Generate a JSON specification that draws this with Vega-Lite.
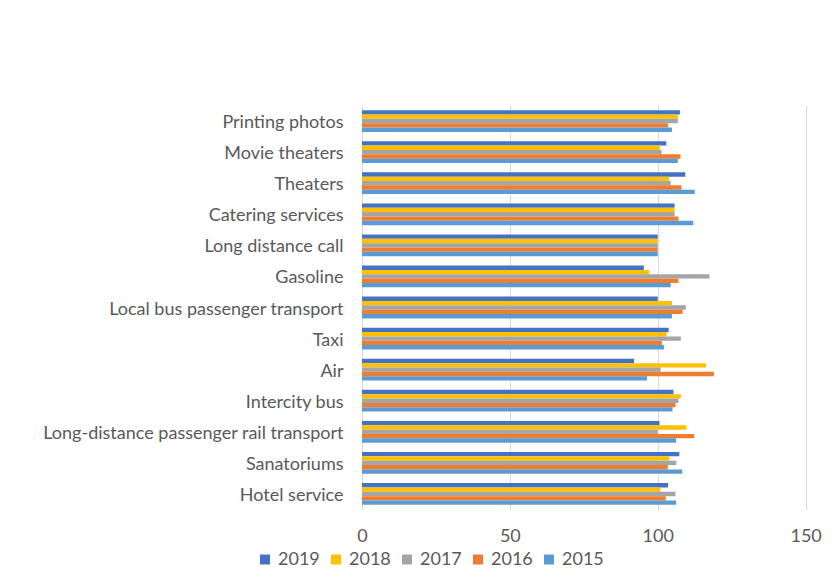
{
  "$schema": "https://vega.github.io/schema/vega-lite/v6.json",
  "width": 472,
  "height": 404,
  "autosize": {"type": "none"},
  "padding": {"left": 362, "top": 105.5, "right": 0, "bottom": 73.5},
  "background": "white",
  "config": {
    "view": {"stroke": null},
    "font": "Lato",
    "axis": {"labelFont": "Lato", "labelColor": "#595959", "labelFontSize": 18, "labelLimit": 400}
  },
  "data": {
    "values": [
      {"category": "Printing photos", "year": "2019", "value": 107.5},
      {"category": "Printing photos", "year": "2018", "value": 106.8},
      {"category": "Printing photos", "year": "2017", "value": 106.8},
      {"category": "Printing photos", "year": "2016", "value": 103.5},
      {"category": "Printing photos", "year": "2015", "value": 104.8},
      {"category": "Movie theaters", "year": "2019", "value": 102.9},
      {"category": "Movie theaters", "year": "2018", "value": 100.7},
      {"category": "Movie theaters", "year": "2017", "value": 101.3},
      {"category": "Movie theaters", "year": "2016", "value": 107.7},
      {"category": "Movie theaters", "year": "2015", "value": 106.8},
      {"category": "Theaters", "year": "2019", "value": 109.3},
      {"category": "Theaters", "year": "2018", "value": 103.8},
      {"category": "Theaters", "year": "2017", "value": 104.4},
      {"category": "Theaters", "year": "2016", "value": 108.0},
      {"category": "Theaters", "year": "2015", "value": 112.5},
      {"category": "Catering services", "year": "2019", "value": 105.7},
      {"category": "Catering services", "year": "2018", "value": 105.7},
      {"category": "Catering services", "year": "2017", "value": 105.7},
      {"category": "Catering services", "year": "2016", "value": 107.0},
      {"category": "Catering services", "year": "2015", "value": 112.0},
      {"category": "Long distance call", "year": "2019", "value": 100.0},
      {"category": "Long distance call", "year": "2018", "value": 100.0},
      {"category": "Long distance call", "year": "2017", "value": 100.0},
      {"category": "Long distance call", "year": "2016", "value": 100.0},
      {"category": "Long distance call", "year": "2015", "value": 100.0},
      {"category": "Gasoline", "year": "2019", "value": 95.3},
      {"category": "Gasoline", "year": "2018", "value": 97.1},
      {"category": "Gasoline", "year": "2017", "value": 117.5},
      {"category": "Gasoline", "year": "2016", "value": 107.0},
      {"category": "Gasoline", "year": "2015", "value": 104.4},
      {"category": "Local bus passenger transport", "year": "2019", "value": 100.0},
      {"category": "Local bus passenger transport", "year": "2018", "value": 104.8},
      {"category": "Local bus passenger transport", "year": "2017", "value": 109.5},
      {"category": "Local bus passenger transport", "year": "2016", "value": 108.4},
      {"category": "Local bus passenger transport", "year": "2015", "value": 104.8},
      {"category": "Taxi", "year": "2019", "value": 103.7},
      {"category": "Taxi", "year": "2018", "value": 103.0},
      {"category": "Taxi", "year": "2017", "value": 107.8},
      {"category": "Taxi", "year": "2016", "value": 101.4},
      {"category": "Taxi", "year": "2015", "value": 102.1},
      {"category": "Air", "year": "2019", "value": 92.0},
      {"category": "Air", "year": "2018", "value": 116.3},
      {"category": "Air", "year": "2017", "value": 101.0},
      {"category": "Air", "year": "2016", "value": 119.0},
      {"category": "Air", "year": "2015", "value": 96.4},
      {"category": "Intercity bus", "year": "2019", "value": 105.3},
      {"category": "Intercity bus", "year": "2018", "value": 107.8},
      {"category": "Intercity bus", "year": "2017", "value": 107.0},
      {"category": "Intercity bus", "year": "2016", "value": 106.0},
      {"category": "Intercity bus", "year": "2015", "value": 105.0},
      {"category": "Long-distance passenger rail transport", "year": "2019", "value": 100.6},
      {"category": "Long-distance passenger rail transport", "year": "2018", "value": 109.7},
      {"category": "Long-distance passenger rail transport", "year": "2017", "value": 100.0},
      {"category": "Long-distance passenger rail transport", "year": "2016", "value": 112.3},
      {"category": "Long-distance passenger rail transport", "year": "2015", "value": 106.2},
      {"category": "Sanatoriums", "year": "2019", "value": 107.3},
      {"category": "Sanatoriums", "year": "2018", "value": 103.9},
      {"category": "Sanatoriums", "year": "2017", "value": 106.3},
      {"category": "Sanatoriums", "year": "2016", "value": 103.4},
      {"category": "Sanatoriums", "year": "2015", "value": 108.3},
      {"category": "Hotel service", "year": "2019", "value": 103.5},
      {"category": "Hotel service", "year": "2018", "value": 100.9},
      {"category": "Hotel service", "year": "2017", "value": 106.0},
      {"category": "Hotel service", "year": "2016", "value": 102.7},
      {"category": "Hotel service", "year": "2015", "value": 106.2}
    ]
  },
  "mark": {"type": "bar"},
  "encoding": {
    "y": {
      "field": "category",
      "type": "nominal",
      "sort": null,
      "title": null,
      "scale": {"paddingInner": 0.3, "paddingOuter": 0.15},
      "axis": {"domain": true, "domainColor": "#D9D9D9", "ticks": false, "labelPadding": 19, "labelOffset": 2, "grid": false}
    },
    "yOffset": {
      "field": "year",
      "type": "nominal",
      "sort": ["2019", "2018", "2017", "2016", "2015"]
    },
    "x": {
      "field": "value",
      "type": "quantitative",
      "title": null,
      "scale": {"domain": [0, 159.6], "nice": false},
      "axis": {"values": [0, 50, 100, 150], "grid": true, "gridColor": "#D9D9D9", "domain": false, "ticks": false, "labelPadding": 18, "labelFlush": false}
    },
    "color": {
      "field": "year",
      "type": "nominal",
      "title": null,
      "scale": {"domain": ["2019", "2018", "2017", "2016", "2015"], "range": ["#4472C4", "#FFC000", "#A5A5A5", "#ED7D31", "#5B9BD5"]},
      "legend": {
        "orient": "none",
        "legendX": -106,
        "legendY": 445,
        "direction": "horizontal",
        "symbolType": "square",
        "symbolSize": 100,
        "symbolStrokeWidth": 0,
        "labelFontSize": 18,
        "labelColor": "#595959",
        "labelFont": "Lato",
        "columnPadding": 7,
        "labelOffset": 4
      }
    }
  }
}
